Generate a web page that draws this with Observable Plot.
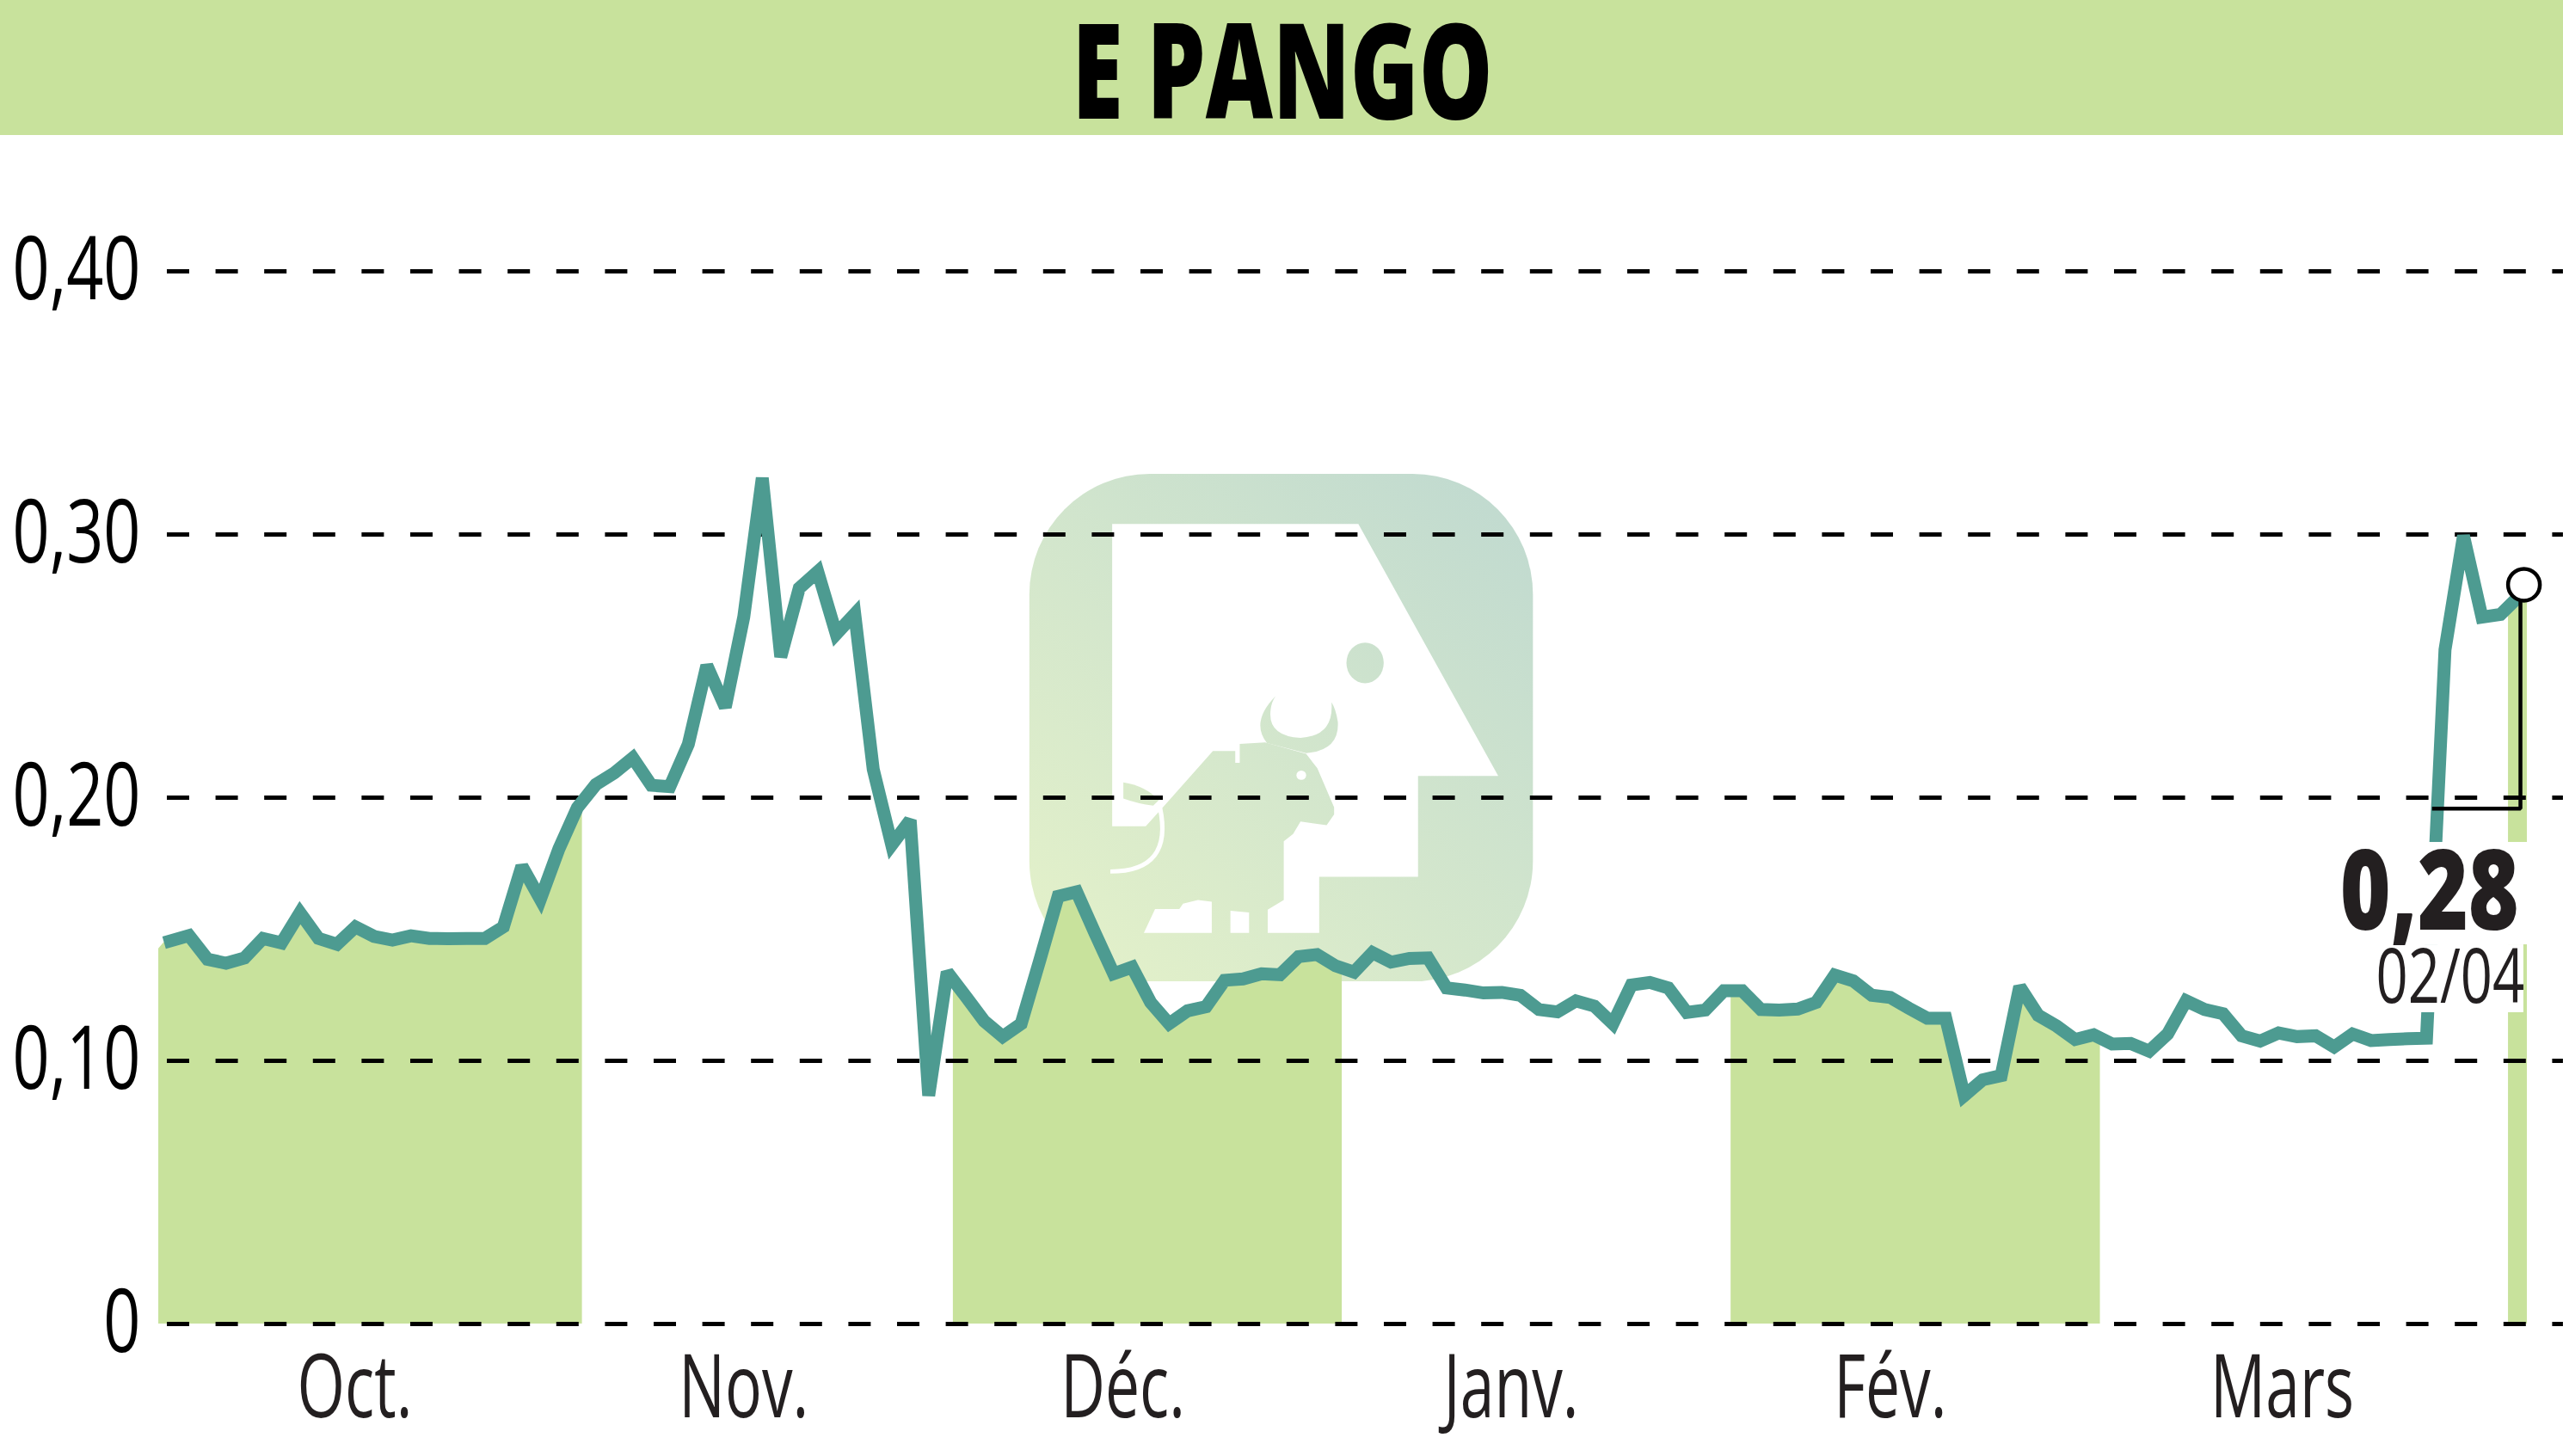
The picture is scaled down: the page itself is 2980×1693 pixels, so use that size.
<!DOCTYPE html>
<html lang="fr">
<head>
<meta charset="utf-8">
<title>E PANGO</title>
<script src="https://cdn.jsdelivr.net/npm/d3@7"></script>
<script src="https://cdn.jsdelivr.net/npm/@observablehq/plot@0.6"></script>
<style>
html,body{margin:0;padding:0;background:#fff;}
#header{height:157px;background:#c8e29c;position:relative;}
#title{position:absolute;left:1491px;top:0;height:157px;transform:translateX(-50%) scaleX(.70);font:800 154px/157px "Open Sans",sans-serif;color:#000;white-space:nowrap;}
svg{display:block;}
</style>
</head>
<body>
<div id="header"><div id="title">E PANGO</div></div>
<div id="chart"></div>
<script>
const title = "E PANGO";
// Closing prices by trading day (index 0 = first October session)
const prices = [
.1449,.1476,.1386,.1371,.1391,.1465,.1448,.1563,.1465,.1443,.1509,.1473,.1459,.1475,.1465,.1464,.1465,.1465,.1509,.1740,
.1614,.1805,.1962,.2050,.2094,.2151,.2047,.2042,.2203,.2502,.2344,.2687,.3215,.2535,.2796,.2859,.2622,.2698,.2108,.1821,
.1914,.0868,.1337,.1245,.1151,.1092,.1141,.1380,.1625,.1642,.1484,.1331,.1356,.1222,.1141,.1190,.1206,.1306,.1311,.1331,
.1327,.1396,.1404,.1361,.1337,.1411,.1375,.1389,.1391,.1277,.1269,.1258,.1260,.1249,.1195,.1186,.1228,.1208,.1141,.1288,
.1298,.1277,.1184,.1193,.1266,.1266,.1195,.1193,.1197,.1222,.1326,.1304,.1249,.1241,.1200,.1162,.1162,.0868,.0928,.0944,
.1282,.1173,.1132,.1081,.1099,.1064,.1066,.1037,.1102,.1228,.1195,.1179,.1095,.1075,.1106,.1092,.1095,.1053,.1102,.1077,
.1081,.1084,.1086,.2562,.2995,.2686,.2696,.2765];
const firstDay = -0.35;
const yTicks = [0, 0.1, 0.2, 0.3, 0.4];
const yTickLabels = ["0", "0,10", "0,20", "0,30", "0,40"];
const months = ["Oct.", "Nov.", "Déc.", "Janv.", "Fév.", "Mars"];
const monthCenters = [9.96, 31, 51.5, 72.5, 93, 114.2];
const bandStarts = [-0.64, 42.33, 84.39, 126.43];
const bandEnds = [22.27, 63.36, 104.36, 127.45];
const bandStartValues = [.1426, .1304, .1266, .2722];
const bandEndValues = [.1947, .1352, .1097, .2765];
const lastValue = "0,28";
const lastDate = "02/04";

const green = "#c8e29c", teal = "#4d9b91", ink = "#231f20";
const font = "Open Sans";
const series = prices.map((v, i) => ({day: i === 0 ? firstDay : i, v}));
const bandRows = bandStarts.flatMap((s, b) => [
  {day: s, v: bandStartValues[b], b},
  ...series.filter(d => d.day > s && d.day < bandEnds[b]).map(d => ({...d, b})),
  {day: bandEnds[b], v: bandEndValues[b], b}
]);

function logo() {
  const g = d3.create("svg:g").attr("transform", "translate(1150,363) scale(.4337,.4146)");
  g.html(`
  <defs><linearGradient id="lg" gradientUnits="userSpaceOnUse" x1="108" y1="1498" x2="1458" y2="75">
    <stop offset="0" stop-color="#e5f2c9"/><stop offset="1" stop-color="#bfd9d0"/></linearGradient></defs>
  <rect x="108" y="75" width="1350" height="1423" rx="322" ry="338" fill="url(#lg)"/>
  <path fill="#fff" d="M330 215H990L1365 922H1150V1205H885V1362H747V1297L790 1270V1105L815 1085L835 1050L905 1060L925 1030V1010L880 900L850 860L740 828L672 832V885H660V852H600L470 1005L420 1063H330Z"/>
  <path fill="#fff" d="M415 1362L445 1295H510L520 1280L560 1270L597 1275V1362Z"/>
  <path fill="#fff" d="M647 1300L697 1305V1362H647Z"/>
  <ellipse cx="1008" cy="605" rx="50" ry="57" fill="url(#lg)"/>
  <path fill="url(#lg)" d="M768 698Q700 770 745 830L850 858Q940 850 935 770Q930 735 918 715Q925 810 835 815Q745 810 755 735Q757 715 768 698Z"/>
  <path fill="url(#lg)" d="M360 940Q420 950 455 990L440 1005Q400 1000 360 985Z"/>
  <circle cx="837" cy="920" r="13" fill="#fff"/>
  <path fill="none" stroke="#fff" stroke-width="12" d="M458 1010Q495 1190 325 1190"/>`);
  return g.node();
}

const plot = Plot.plot({
  width: 2980, height: 1536,
  marginLeft: 0, marginRight: 0, marginTop: 0, marginBottom: 0,
  x: {domain: [0, 127], range: [197.8, 2928.3], axis: null},
  y: {domain: [0, 0.4], range: [1382, 158], axis: null},
  marks: [
    logo,
    Plot.areaY(bandRows, {x: "day", y1: 0, y2: "v", z: "b", fill: green}),
    Plot.ruleY(yTicks, {x1: -0.177, x2: 129.4, stroke: "#000", strokeWidth: 5, strokeDasharray: "26 30.6"}),
    Plot.line(series, {x: "day", y: "v", stroke: teal, strokeWidth: 15,
      strokeLinejoin: "miter", strokeMiterlimit: 2.5, strokeLinecap: "butt"}),
    Plot.rect([0], {x1: 116.4, x2: 127.5, y1: .1441, y2: .1830, fill: "#fff"}),
    Plot.rect([0], {x1: 118.9, x2: 127.26, y1: .1183, y2: .1441, fill: "#fff"}),
    Plot.line([[122.3, .1958], [127.08, .1958], [127.08, .2814]], {stroke: "#000", strokeWidth: 4.5,
      strokeLinejoin: "miter", strokeLinecap: "butt"}),
    Plot.dot([[127.27, .2809]], {r: 18.5, fill: "#fff", stroke: "#000", strokeWidth: 4.5}),
    Plot.text(yTickLabels, {className: "ylab", y: (d, i) => yTicks[i], text: d => d, frameAnchor: "left", dx: 163,
      textAnchor: "end", fontSize: 102, fill: "#000", fontFamily: font}),
    Plot.text(months, {className: "xlab", x: (d, i) => monthCenters[i], y: () => -0.0356, text: d => d,
      lineAnchor: "bottom", fontSize: 102, fill: ink, fontFamily: font}),
    Plot.text([lastValue], {className: "val", x: () => 127.0, y: () => 0.1500, text: d => d, textAnchor: "end",
      lineAnchor: "bottom", fontSize: 129, fontWeight: 800, fill: ink, fontFamily: font}),
    Plot.text([lastDate], {className: "dat", x: () => 127.3, y: () => 0.1220, text: d => d, textAnchor: "end",
      lineAnchor: "bottom", fontSize: 88, fill: ink, fontFamily: font})
  ]
});
document.getElementById("chart").appendChild(plot);
document.getElementById("title").textContent = title;
const squeeze = {".ylab": .74, ".xlab": .70, ".val": .78, ".dat": .74};
for (const [sel, k] of Object.entries(squeeze))
  d3.select(plot).selectAll(sel + " text").attr("transform", function() {
    return (this.getAttribute("transform") || "") + ` scale(${k},1)`;
  });
</script>
</body>
</html>
